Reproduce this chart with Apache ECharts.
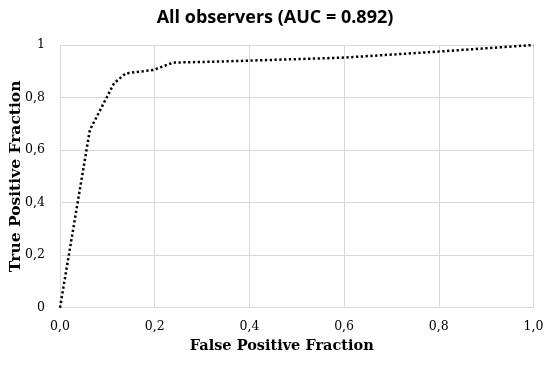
<!DOCTYPE html>
<html><head><meta charset="utf-8">
<script src="https://cdn.jsdelivr.net/npm/echarts@6/dist/echarts.min.js"></script>
<style>html,body{margin:0;padding:0;background:#fff}#c{width:550px;height:367px}</style>
</head><body><div id="c"></div>
<script>
const titleText = 'All observers (AUC = 0.892)';
const xName = 'False Positive Fraction';
const yName = 'True Positive Fraction';
const fpf = [0, 0.063, 0.114, 0.139, 0.197, 0.239, 0.338, 0.6, 0.8, 1.0];
const tpf = [0, 0.676, 0.854, 0.892, 0.905, 0.933, 0.937, 0.952, 0.975, 1.0];
const points = fpf.map((x, i) => [x, tpf[i]]);

const chart = echarts.init(document.getElementById('c'), null, {renderer: 'canvas'});
const serif = '"DejaVu Serif", "Liberation Serif", serif';
chart.setOption({
  animation: false,
  backgroundColor: '#fff',
  title: {
    text: titleText, left: 'center', top: 4,
    textStyle: {fontFamily: '"Open Sans", "Liberation Sans", sans-serif', fontWeight: 'bold', fontSize: 18, color: '#000'}
  },
  grid: {left: 60, right: 16.5, top: 45, bottom: 59.3, containLabel: false, outerBoundsMode: 'none'},
  xAxis: {
    type: 'value', min: 0, max: 1, interval: 0.2,
    name: xName, nameLocation: 'middle', nameGap: 31, nameMoveOverlap: false,
    nameTextStyle: {fontFamily: serif, fontWeight: 'bold', fontSize: 14.5, color: '#000', padding: [0, 30, 0, 0]},
    axisLine: {show: true, lineStyle: {color: '#d9d9d9', width: 1}},
    axisTick: {show: false},
    axisLabel: {fontFamily: serif, fontSize: 12.5, color: '#000', margin: 13,
      formatter: v => v.toFixed(1).replace('.', ',')},
    splitLine: {show: true, lineStyle: {color: '#d9d9d9', width: 1}}
  },
  yAxis: {
    type: 'value', min: 0, max: 1, interval: 0.2,
    name: yName, nameLocation: 'middle', nameGap: 36, nameMoveOverlap: false,
    nameTextStyle: {fontFamily: serif, fontWeight: 'bold', fontSize: 15.5, color: '#000'},
    axisLine: {show: true, lineStyle: {color: '#d9d9d9', width: 1}},
    axisTick: {show: false},
    axisLabel: {fontFamily: serif, fontSize: 12.5, color: '#000', margin: 15,
      formatter: v => (v === 0 || v === 1) ? String(v) : v.toFixed(1).replace('.', ',')},
    splitLine: {show: true, lineStyle: {color: '#d9d9d9', width: 1}}
  },
  series: [{
    type: 'line', data: points, showSymbol: false, smooth: false,
    lineStyle: {color: '#000', width: 2.5, type: [2.3, 2.5], cap: 'butt'}
  }]
});
</script></body></html>
